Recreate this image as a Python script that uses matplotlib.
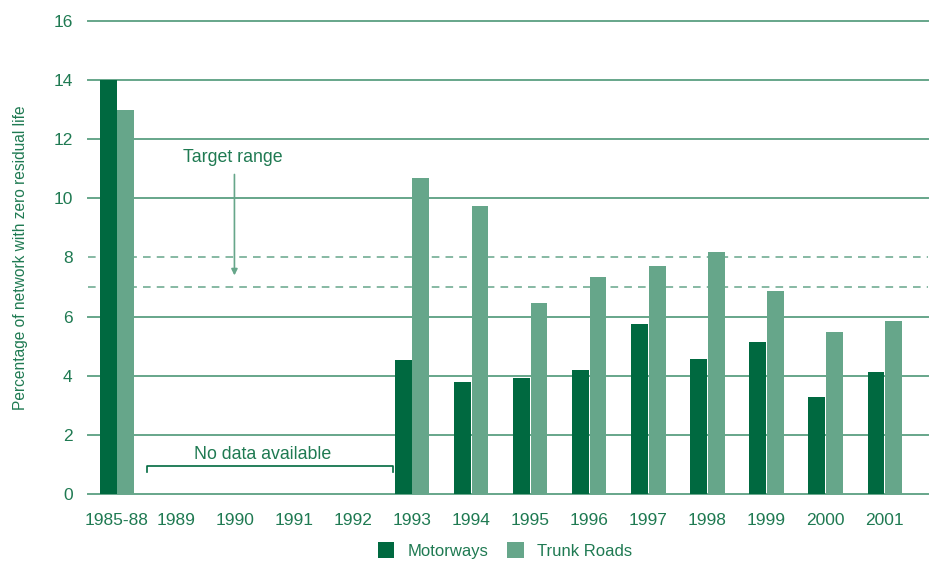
import numpy as np
from matplotlib import pyplot as plt

plt.rcParams['font.family'] = ['Liberation Sans', 'DejaVu Sans']

categories = ['1985-88', '1989', '1990', '1991', '1992', '1993', '1994',
              '1995', '1996', '1997', '1998', '1999', '2000', '2001']
motorways = [14.0, None, None, None, None, 4.53, 3.79, 3.92, 4.19, 5.75, 4.57, 5.14, 3.28, 4.13]
trunk_roads = [13.0, None, None, None, None, 10.69, 9.74, 6.46, 7.34, 7.71, 8.19, 6.87, 5.48, 5.85]
grid_levels = [0, 2, 4, 6, 10, 12, 14, 16]
target_range = [7, 8]

dark = '#006940'
light = '#66a68a'
text_c = '#1f7a52'

fig = plt.figure(figsize=(9.3, 5.64), dpi=100)
ax = fig.add_axes([0.0946, 0.124, 0.903, 0.839])

x = np.arange(len(categories))
m = np.array([np.nan if v is None else v for v in motorways])
t = np.array([np.nan if v is None else v for v in trunk_roads])
w = 0.285
ax.bar(x - w / 2 - 0.005, m, width=w, color=dark, label='Motorways', zorder=3)
ax.bar(x + w / 2 + 0.005, t, width=w, color=light, label='Trunk Roads', zorder=3)

for y in grid_levels:
    ax.axhline(y, color=light, lw=1.4, zorder=1, clip_on=False)
for y in target_range:
    ax.axhline(y, color=light, lw=1.1, ls=(0, (5, 4)), zorder=1)

# no data bracket
ax.plot([0.51, 0.51, 4.68, 4.68], [0.74, 0.95, 0.95, 0.74], color=dark, lw=1.2, zorder=4)
ax.text(2.47, 1.05, 'No data available', ha='center', va='bottom', color=text_c, fontsize=12.8)

# target range label and arrow
ax.text(1.96, 11.37, 'Target range', ha='center', va='center', color=text_c, fontsize=12.8)
ax.annotate('', xy=(1.99, 7.3), xytext=(1.99, 10.9),
            arrowprops=dict(arrowstyle='-|>', color=light, lw=1.2, mutation_scale=9))

ax.set_xlim(-0.49, 13.73)
ax.set_ylim(0, 16)
ax.set_yticks(range(0, 17, 2))
ax.set_xticks(x)
ax.set_xticklabels(categories)
ax.tick_params(axis='both', length=0, labelcolor=text_c, labelsize=12.5)
ax.tick_params(axis='x', pad=13.5)
ax.tick_params(axis='y', pad=11)
for s in ax.spines.values():
    s.set_visible(False)

ax.set_ylabel('Percentage of network with zero residual life', color=text_c, fontsize=11.2, labelpad=18)

fig.legend(loc='lower center', bbox_to_anchor=(0.543, -0.018), ncol=2, frameon=False,
           fontsize=12, labelcolor=text_c, handlelength=1.0, handleheight=1.1,
           columnspacing=1.1, handletextpad=0.8)

fig.savefig('out.png', dpi=100)
